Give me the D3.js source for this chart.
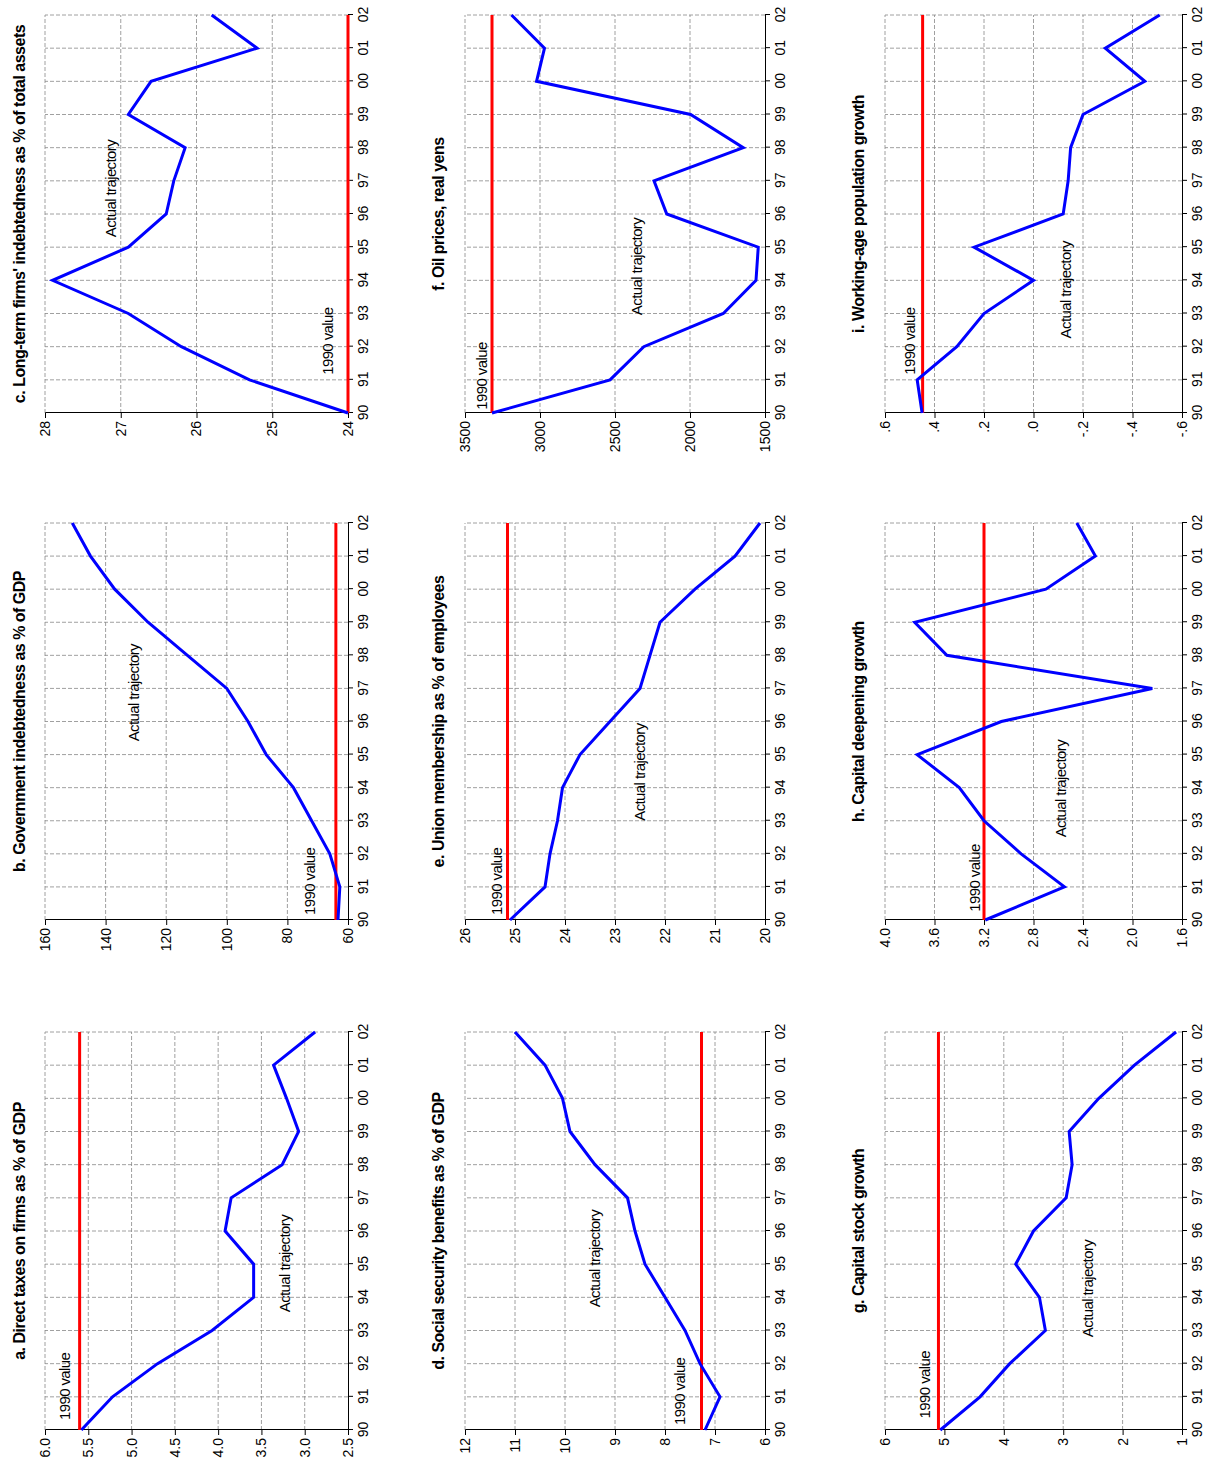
<!DOCTYPE html>
<html><head><meta charset="utf-8">
<script src="https://cdn.jsdelivr.net/npm/d3@7"></script>
<style>body{margin:0;background:#fff}text{font-family:"Liberation Sans",Arial,sans-serif}</style>
</head><body><div id="chart"></div>
<script>
var years = ["90","91","92","93","94","95","96","97","98","99","00","01","02"];

var titles = ["a. Direct taxes on firms as % of GDP","b. Government indebtedness as % of GDP","c. Long-term firms' indebtedness as % of total assets",
  "d. Social security benefits as % of GDP","e. Union membership as % of employees","f. Oil prices, real yens",
  "g. Capital stock growth","h. Capital deepening growth","i. Working-age population growth"];

var seriesA = [5.58,5.22,4.7,4.07,3.59,3.59,3.92,3.85,3.26,3.07,3.21,3.36,2.88];
var seriesB = [63.3,62.7,66,72,78,87,93,100,113,126,137,145,151];
var seriesC = [24.0,25.3,26.2,26.9,27.9,26.9,26.4,26.3,26.15,26.9,26.6,25.2,25.8];
var seriesD = [7.2,6.9,7.3,7.6,8.0,8.4,8.6,8.75,9.4,9.9,10.05,10.4,11.0];
var seriesE = [25.1,24.4,24.3,24.15,24.05,23.7,23.1,22.5,22.3,22.1,21.4,20.6,20.1];
var seriesF = [3320,2533,2308,1778,1560,1545,2155,2240,1645,1996,3023,2970,3190];
var seriesG = [5.07,4.4,3.9,3.3,3.4,3.8,3.5,2.95,2.85,2.9,2.4,1.8,1.1];
var seriesH = [3.19,2.55,2.9,3.2,3.4,3.74,3.06,1.84,3.5,3.76,2.7,2.3,2.45];
var seriesI = [0.45,0.47,0.31,0.2,0.0,0.24,-0.12,-0.14,-0.15,-0.2,-0.45,-0.29,-0.51];

var base1990 = [5.6,64,24,7.27,25.15,3320,5.1,3.2,0.448];

var yTicks = [
  [2.5,3.0,3.5,4.0,4.5,5.0,5.5,6.0],[60,80,100,120,140,160],[24,25,26,27,28],
  [6,7,8,9,10,11,12],[20,21,22,23,24,25,26],[1500,2000,2500,3000,3500],
  [1,2,3,4,5,6],[1.6,2.0,2.4,2.8,3.2,3.6,4.0],[-0.6,-0.4,-0.2,0.0,0.2,0.4,0.6]];
var yTickLabels = [
  ["2.5","3.0","3.5","4.0","4.5","5.0","5.5","6.0"],["60","80","100","120","140","160"],["24","25","26","27","28"],
  ["6","7","8","9","10","11","12"],["20","21","22","23","24","25","26"],["1500","2000","2500","3000","3500"],
  ["1","2","3","4","5","6"],["1.6","2.0","2.4","2.8","3.2","3.6","4.0"],["-.6","-.4","-.2",".0",".2",".4",".6"]];

// label anchors: [year index, value]
var label1990 = [[0.3,5.71],[0.15,71],[1.15,24.2],[0.15,7.6],[0.15,25.26],[0.1,3354],[0.35,5.24],[0.25,3.23],[1.15,0.48]];
var labelActual = [[3.55,3.17],[5.4,129],[5.3,27.06],[3.7,9.3],[3.0,22.4],[2.95,2321],[2.8,2.49],[2.5,2.54],[2.25,-0.152]];

var allSeries = [seriesA,seriesB,seriesC,seriesD,seriesE,seriesF,seriesG,seriesH,seriesI];

var colX = [[44,442],[554,951],[1061,1459]];
var rowY = [[45,348],[465,765],[885,1182]];
var titleY = [25,444,864];

var svg = d3.select("#chart").append("svg").attr("width",1229).attr("height",1474);
var root = svg.append("g").attr("transform","translate(0,1474) rotate(-90)");

allSeries.forEach(function(data, i) {
  var col = i % 3, row = Math.floor(i / 3);
  var t = yTicks[i];
  var x = d3.scaleLinear().domain([0,12]).range(colX[col]);
  var y = d3.scaleLinear().domain([t[0], t[t.length-1]]).range([rowY[row][1], rowY[row][0]]);
  var g = root.append("g");

  // grid
  g.selectAll(".vg").data(d3.range(1,13)).enter().append("line")
    .attr("x1", d => x(d)).attr("x2", d => x(d))
    .attr("y1", y.range()[0]).attr("y2", y.range()[1])
    .attr("stroke","#888").attr("stroke-width",0.8).attr("stroke-dasharray","4,2");
  g.selectAll(".hg").data(t.slice(1)).enter().append("line")
    .attr("x1", x(0)).attr("x2", x(12))
    .attr("y1", d => y(d)).attr("y2", d => y(d))
    .attr("stroke","#888").attr("stroke-width",0.8).attr("stroke-dasharray","4,2");

  // axes
  var xAxis = d3.axisBottom(x).tickValues(d3.range(13)).tickFormat(d => years[d]).tickSize(5);
  g.append("g").attr("transform",`translate(0,${y.range()[0]})`).call(xAxis)
    .call(a => a.selectAll("text").attr("font-size",14).attr("fill","#000").attr("dy","0.85em"))
    .call(a => a.selectAll("line,path").attr("stroke","#000"));
  var yAxis = d3.axisLeft(y).tickValues(t).tickFormat((d,j) => yTickLabels[i][j]).tickSize(5);
  g.append("g").attr("transform",`translate(${x(0)},0)`).call(yAxis)
    .call(a => a.selectAll("text").attr("font-size",14).attr("fill","#000"))
    .call(a => a.selectAll("line,path").attr("stroke","#000"));

  // 1990 line
  g.append("line").attr("x1",x(0)).attr("x2",x(12))
    .attr("y1",y(base1990[i])).attr("y2",y(base1990[i]))
    .attr("stroke","#ff0000").attr("stroke-width",3);

  // series
  g.append("path").datum(data)
    .attr("d", d3.line().x((d,j) => x(j)).y(d => y(d)))
    .attr("fill","none").attr("stroke","#0000ff").attr("stroke-width",3);

  // labels
  g.append("text").attr("x",x(label1990[i][0])).attr("y",y(label1990[i][1]))
    .attr("font-size",15).attr("letter-spacing","-0.6").text("1990 value");
  g.append("text").attr("x",x(labelActual[i][0])).attr("y",y(labelActual[i][1]))
    .attr("font-size",15).attr("letter-spacing","-0.6").text("Actual trajectory");

  g.append("text").attr("x",(colX[col][0]+colX[col][1])/2).attr("y",titleY[row])
    .attr("text-anchor","middle").attr("font-size",16).attr("font-weight","bold")
    .attr("letter-spacing","-0.5").text(titles[i]);
});
</script></body></html>
